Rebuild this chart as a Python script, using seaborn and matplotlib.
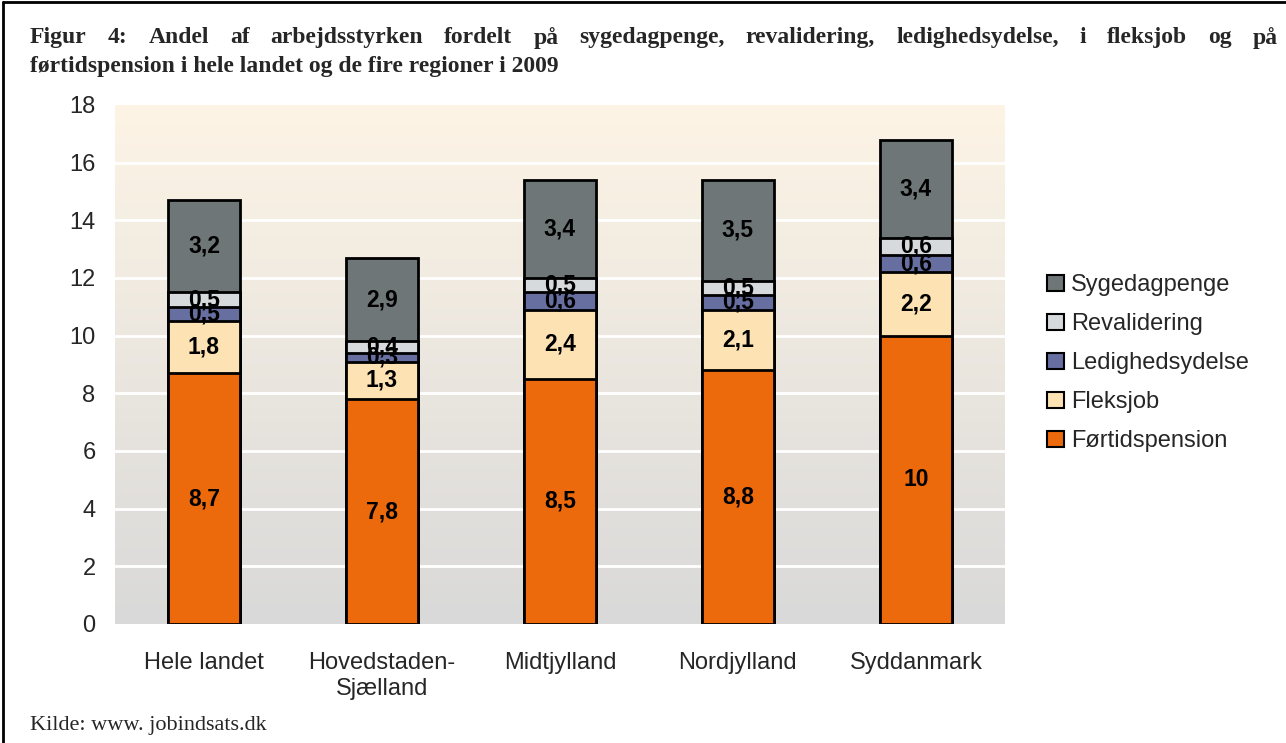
import numpy as np
import pandas as pd
import matplotlib
matplotlib.use("Agg")
import matplotlib.pyplot as plt
from matplotlib.patches import Patch
from matplotlib.lines import Line2D
import seaborn as sns

regions = ["Hele landet", "Hovedstaden-\nSjælland", "Midtjylland", "Nordjylland", "Syddanmark"]
fortidspension = [8.7, 7.8, 8.5, 8.8, 10]
fleksjob = [1.8, 1.3, 2.4, 2.1, 2.2]
ledighedsydelse = [0.5, 0.3, 0.6, 0.5, 0.6]
revalidering = [0.5, 0.4, 0.5, 0.5, 0.6]
sygedagpenge = [3.2, 2.9, 3.4, 3.5, 3.4]

series = ["Førtidspension", "Fleksjob", "Ledighedsydelse", "Revalidering", "Sygedagpenge"]
values = [fortidspension, fleksjob, ledighedsydelse, revalidering, sygedagpenge]
colors = ["#EC6A0C", "#FDE2B4", "#676EA0", "#D6DADC", "#6E7677"]
yticks = list(range(0, 19, 2))

title1 = "Figur 4: Andel af arbejdsstyrken fordelt på sygedagpenge, revalidering, ledighedsydelse, i fleksjob og på"
title2 = "førtidspension i hele landet og de fire regioner i 2009"
source = "Kilde: www. jobindsats.dk"

df = pd.DataFrame(dict(zip(series, values)), index=regions)
cum = df.cumsum(axis=1)

sns.set_style("white")
plt.rcParams["font.family"] = ["Liberation Sans", "DejaVu Sans"]

fig = plt.figure(figsize=(12.86, 7.43), dpi=100)
ax = fig.add_axes([0.0894, 0.1602, 0.692, 0.6985])

# gradient background
grad = np.linspace(0, 1, 256).reshape(-1, 1)
top = np.array([253, 244, 229]) / 255
bot = np.array([217, 217, 217]) / 255
img = top[None, None, :] * (1 - grad[:, :, None]) + bot[None, None, :] * grad[:, :, None]
ax.imshow(img, extent=[0, 1, 0, 1], transform=ax.transAxes, aspect="auto", zorder=0)

for y in yticks[1:-1]:
    ax.axhline(y, color="white", lw=2, zorder=1)

# draw cumulative bars tallest first so lower segments overlay
for name, col in reversed(list(zip(series, colors))):
    sns.barplot(x=regions, y=cum[name].values, color=col, width=0.405,
                edgecolor="black", linewidth=2, saturation=1, ax=ax, zorder=2)

for i, reg in enumerate(regions):
    for name in series:
        v = df.loc[reg, name]
        mid = cum.loc[reg, name] - v / 2
        ax.text(i, mid, f"{v:g}".replace(".", ","), ha="center", va="center",
                fontsize=16.5, fontweight="bold", color="black", zorder=5)

ax.set_xlim(-0.5, 4.5)
ax.set_ylim(0, 18)
ax.set_yticks(yticks)
ax.tick_params(axis="y", labelsize=17, length=0, pad=14)
ax.tick_params(axis="x", labelsize=17, length=0, pad=20)
for lab in ax.get_xticklabels():
    lab.set_linespacing(1.25)
for s in ax.spines.values():
    s.set_visible(False)
ax.set_xlabel("")
ax.set_ylabel("")

handles = [Patch(facecolor=c, edgecolor="black", lw=1.5, label=n)
           for n, c in reversed(list(zip(series, colors)))]
fig.legend(handles=handles, loc="center left", bbox_to_anchor=(0.798, 0.511),
           frameon=False, fontsize=17, handlelength=0.7, handleheight=0.7,
           handletextpad=0.3, labelspacing=0.72)

# justified first title line
tkw = dict(family="Liberation Serif", fontweight="bold", fontsize=17, va="center")
words = title1.split(" ")
objs = [fig.text(0, 0.949, w, **tkw) for w in words]
fig.canvas.draw()
r = fig.canvas.get_renderer()
widths = [o.get_window_extent(r).width for o in objs]
x0, x1 = 30, 1278
gap = (x1 - x0 - sum(widths)) / (len(words) - 1)
x = x0
for o, w in zip(objs, widths):
    o.set_x(x / 1286)
    x += w + gap
fig.text(x0 / 1286, 0.911, title2, **tkw)
fig.text(x0 / 1286, 0.024, source, family="Liberation Serif", fontsize=16, va="center")

# frame around figure (top and left visible)
fig.add_artist(Line2D([0.002, 0.002], [0, 0.997], color="black", lw=2, transform=fig.transFigure))
fig.add_artist(Line2D([0.002, 1], [0.997, 0.997], color="black", lw=2, transform=fig.transFigure))

fig.savefig("out.png", dpi=100, facecolor="white")
